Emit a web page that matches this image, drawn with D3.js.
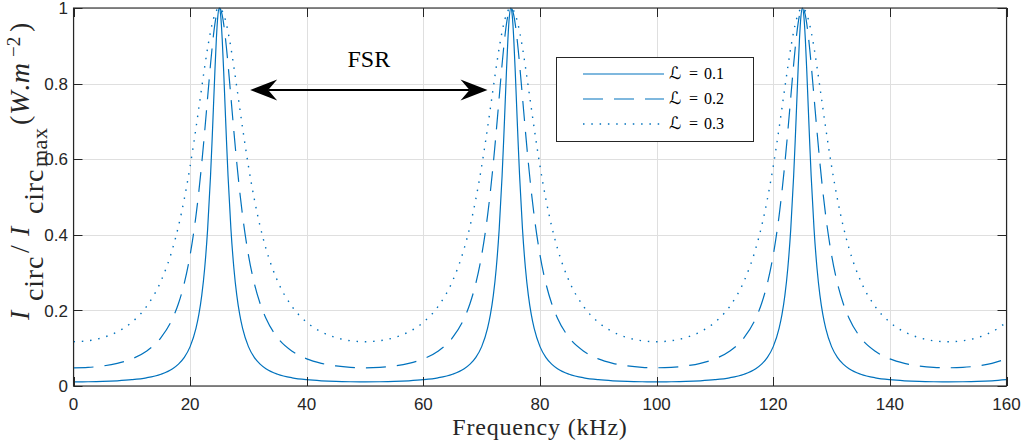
<!DOCTYPE html>
<html>
<head>
<meta charset="utf-8">
<script src="https://cdn.jsdelivr.net/npm/d3@7"></script>
<style>
  html, body { margin: 0; padding: 0; background: #fff; }
  svg { display: block; }
  .serif { font-family: "Liberation Serif", "Times New Roman", serif; }
</style>
</head>
<body>
<svg id="chart" width="1029" height="447"></svg>
<script>
// ---------------- DATA ----------------
const freq = [0,2.5,5,7.5,10,12.5,15,17,18,19,20,21,21.5,22,22.5,23,23.5,23.75,24,24.25,24.5,24.75,25,
  25.25,25.5,25.75,26,26.25,26.5,27,27.5,28,28.5,29,30,31,32,33,35,37.5,40,42.5,45,47.5,50,
  52.5,55,57.5,60,62.5,65,67,68,69,70,71,71.5,72,72.5,73,73.5,73.75,74,74.25,74.5,74.75,75,
  75.25,75.5,75.75,76,76.25,76.5,77,77.5,78,78.5,79,80,81,82,83,85,87.5,90,92.5,95,97.5,100,
  102.5,105,107.5,110,112.5,115,117,118,119,120,121,121.5,122,122.5,123,123.5,123.75,124,124.25,124.5,124.75,125,
  125.25,125.5,125.75,126,126.25,126.5,127,127.5,128,128.5,129,130,131,132,133,135,137.5,140,142.5,145,147.5,150,
  152.5,155,157.5,160];

const valuesL01 = [0.0110,0.0113,0.0121,0.0138,0.0167,0.0217,0.0312,0.0457,0.0578,0.0758,0.1042,0.1523,0.1893,0.2404,0.3123,0.4143,0.5564,0.6435,0.7381,0.8335,0.9184,0.9783,1,
  0.9783,0.9184,0.8335,0.7381,0.6435,0.5564,0.4143,0.3123,0.2404,0.1893,0.1523,0.1042,0.0758,0.0578,0.0457,0.0312,0.0217,0.0167,0.0138,0.0121,0.0113,0.0110,
  0.0113,0.0121,0.0138,0.0167,0.0217,0.0312,0.0457,0.0578,0.0758,0.1042,0.1523,0.1893,0.2404,0.3123,0.4143,0.5564,0.6435,0.7381,0.8335,0.9184,0.9783,1,
  0.9783,0.9184,0.8335,0.7381,0.6435,0.5564,0.4143,0.3123,0.2404,0.1893,0.1523,0.1042,0.0758,0.0578,0.0457,0.0312,0.0217,0.0167,0.0138,0.0121,0.0113,0.0110,
  0.0113,0.0121,0.0138,0.0167,0.0217,0.0312,0.0457,0.0578,0.0758,0.1042,0.1523,0.1893,0.2404,0.3123,0.4143,0.5564,0.6435,0.7381,0.8335,0.9184,0.9783,1,
  0.9783,0.9184,0.8335,0.7381,0.6435,0.5564,0.4143,0.3123,0.2404,0.1893,0.1523,0.1042,0.0758,0.0578,0.0457,0.0312,0.0217,0.0167,0.0138,0.0121,0.0113,0.0110,
  0.0113,0.0121,0.0138,0.0167];

const valuesL02 = [0.0482,0.0493,0.0530,0.0600,0.0718,0.0920,0.1278,0.1791,0.2183,0.2720,0.3465,0.4501,0.5155,0.5905,0.6742,0.7632,0.8511,0.8916,0.9278,0.9580,0.9809,0.9952,1,
  0.9952,0.9809,0.9580,0.9278,0.8916,0.8511,0.7632,0.6742,0.5905,0.5155,0.4501,0.3465,0.2720,0.2183,0.1791,0.1278,0.0920,0.0718,0.0600,0.0530,0.0493,0.0482,
  0.0493,0.0530,0.0600,0.0718,0.0920,0.1278,0.1791,0.2183,0.2720,0.3465,0.4501,0.5155,0.5905,0.6742,0.7632,0.8511,0.8916,0.9278,0.9580,0.9809,0.9952,1,
  0.9952,0.9809,0.9580,0.9278,0.8916,0.8511,0.7632,0.6742,0.5905,0.5155,0.4501,0.3465,0.2720,0.2183,0.1791,0.1278,0.0920,0.0718,0.0600,0.0530,0.0493,0.0482,
  0.0493,0.0530,0.0600,0.0718,0.0920,0.1278,0.1791,0.2183,0.2720,0.3465,0.4501,0.5155,0.5905,0.6742,0.7632,0.8511,0.8916,0.9278,0.9580,0.9809,0.9952,1,
  0.9952,0.9809,0.9580,0.9278,0.8916,0.8511,0.7632,0.6742,0.5905,0.5155,0.4501,0.3465,0.2720,0.2183,0.1791,0.1278,0.0920,0.0718,0.0600,0.0530,0.0493,0.0482,
  0.0493,0.0530,0.0600,0.0718];

const valuesL03 = [0.1172,0.1197,0.1280,0.1432,0.1686,0.2098,0.2775,0.3638,0.4226,0.4948,0.5816,0.6821,0.7361,0.7908,0.8443,0.8942,0.9374,0.9557,0.9711,0.9836,0.9926,0.9981,1,
  0.9981,0.9926,0.9836,0.9711,0.9557,0.9374,0.8942,0.8443,0.7908,0.7361,0.6821,0.5816,0.4948,0.4226,0.3638,0.2775,0.2098,0.1686,0.1432,0.1280,0.1197,0.1172,
  0.1197,0.1280,0.1432,0.1686,0.2098,0.2775,0.3638,0.4226,0.4948,0.5816,0.6821,0.7361,0.7908,0.8443,0.8942,0.9374,0.9557,0.9711,0.9836,0.9926,0.9981,1,
  0.9981,0.9926,0.9836,0.9711,0.9557,0.9374,0.8942,0.8443,0.7908,0.7361,0.6821,0.5816,0.4948,0.4226,0.3638,0.2775,0.2098,0.1686,0.1432,0.1280,0.1197,0.1172,
  0.1197,0.1280,0.1432,0.1686,0.2098,0.2775,0.3638,0.4226,0.4948,0.5816,0.6821,0.7361,0.7908,0.8443,0.8942,0.9374,0.9557,0.9711,0.9836,0.9926,0.9981,1,
  0.9981,0.9926,0.9836,0.9711,0.9557,0.9374,0.8942,0.8443,0.7908,0.7361,0.6821,0.5816,0.4948,0.4226,0.3638,0.2775,0.2098,0.1686,0.1432,0.1280,0.1197,0.1172,
  0.1197,0.1280,0.1432,0.1686];

const seriesLabels = ["0.1", "0.2", "0.3"];
const xTicks = [0, 20, 40, 60, 80, 100, 120, 140, 160];
const yTicks = [0, 0.2, 0.4, 0.6, 0.8, 1];
const yTickLabels = ["0", "0.2", "0.4", "0.6", "0.8", "1"];
const fsrArrow = [30.3, 71.0];   // kHz
const fsrArrowY = 0.783;
const fsrText = "FSR";

// ---------------- LAYOUT ----------------
const svg = d3.select("#chart");
const L = 73.5, R = 1006.5, T = 8, B = 386;
const x = d3.scaleLinear().domain([0, 160]).range([L, R]);
const y = d3.scaleLinear().domain([0, 1]).range([B, T]);
const axisColor = "#262626";
const lineColor = "#0072BD";
const tickFont = "'Liberation Sans', Arial, Helvetica, sans-serif";

// grid
const grid = svg.append("g");
grid.selectAll("line.gx").data(xTicks).join("line")
  .attr("x1", d => Math.round(x(d)) + 0.5).attr("x2", d => Math.round(x(d)) + 0.5)
  .attr("y1", T).attr("y2", B).attr("stroke", "#dfdfdf").attr("stroke-width", 1);
grid.selectAll("line.gy").data(yTicks).join("line")
  .attr("y1", d => Math.round(y(d)) + 0.5).attr("y2", d => Math.round(y(d)) + 0.5)
  .attr("x1", L).attr("x2", R).attr("stroke", "#dfdfdf").attr("stroke-width", 1);

// series
const series = [
  { vals: valuesL01, dash: null, w: 1.2 },
  { vals: valuesL02, dash: "20,11", w: 1.2 },
  { vals: valuesL03, dash: "1.5,6.8", w: 1.4 }
];
const line = d3.line().x(d => x(d[0])).y(d => y(d[1])).curve(d3.curveMonotoneX);
svg.append("defs").append("clipPath").attr("id", "clip")
  .append("rect").attr("x", L).attr("y", T - 2).attr("width", R - L).attr("height", B - T + 2);
const gSeries = svg.append("g").attr("clip-path", "url(#clip)");
series.forEach(s => {
  gSeries.append("path")
    .datum(freq.map((f, i) => [f, s.vals[i]]))
    .attr("d", line).attr("fill", "none")
    .attr("stroke", lineColor).attr("stroke-width", s.w)
    .attr("stroke-dasharray", s.dash);
});

// axes box
svg.append("rect").attr("x", L).attr("y", T).attr("width", R - L).attr("height", B - T)
  .attr("fill", "none").attr("stroke", axisColor).attr("stroke-width", 1.1);

// ticks (inward, on all four sides)
const tl = 9;
const ticks = svg.append("g").attr("stroke", axisColor).attr("stroke-width", 1);
xTicks.forEach(t => {
  const xx = Math.round(x(t)) + 0.5;
  ticks.append("line").attr("x1", xx).attr("x2", xx).attr("y1", B).attr("y2", B - tl);
  ticks.append("line").attr("x1", xx).attr("x2", xx).attr("y1", T).attr("y2", T + tl);
});
yTicks.forEach(t => {
  const yy = Math.round(y(t)) + 0.5;
  ticks.append("line").attr("x1", L).attr("x2", L + tl).attr("y1", yy).attr("y2", yy);
  ticks.append("line").attr("x1", R).attr("x2", R - tl).attr("y1", yy).attr("y2", yy);
});

// tick labels
svg.append("g").selectAll("text").data(xTicks).join("text")
  .attr("x", d => x(d)).attr("y", 410).attr("text-anchor", "middle")
  .attr("font-family", tickFont).attr("font-size", 17).attr("fill", axisColor)
  .text(d => d);
svg.append("g").selectAll("text").data(yTicks).join("text")
  .attr("x", 68).attr("y", d => y(d)).attr("dy", "0.36em").attr("text-anchor", "end")
  .attr("font-family", tickFont).attr("font-size", 17).attr("fill", axisColor)
  .text((d, i) => yTickLabels[i]);

// x label
svg.append("text").attr("class", "serif").attr("x", (L + R) / 2).attr("y", 435).attr("text-anchor", "middle")
  .attr("font-size", 24).attr("letter-spacing", 0.8).attr("fill", axisColor)
  .text("Frequency (kHz)");

// y label (rotated); tspan x = distance upward from the label start
const yl = svg.append("text").attr("class", "serif")
  .attr("transform", "translate(29,320) rotate(-90)")
  .attr("font-size", 28).attr("fill", axisColor);
yl.append("tspan").attr("x", 0).attr("font-style", "italic").text("I");
yl.append("tspan").attr("x", 19).attr("dy", 14).attr("letter-spacing", 0.8).text("circ");
yl.append("tspan").attr("x", 67).attr("dy", -14).text("/");
yl.append("tspan").attr("x", 84).attr("font-style", "italic").text("I");
yl.append("tspan").attr("x", 106).attr("dy", 14).attr("letter-spacing", 0.8).text("circ");
yl.append("tspan").attr("x", 153).attr("dy", 4).attr("font-size", 22).attr("letter-spacing", 0.5).text("max");
yl.append("tspan").attr("x", 195).attr("dy", -18).text("(");
yl.append("tspan").attr("font-style", "italic").attr("dx", 1).text("W");
yl.append("tspan").text(".");
yl.append("tspan").attr("font-style", "italic").attr("dx", 1).text("m");
yl.append("tspan").attr("x", 263).attr("dy", -9).attr("font-size", 19).text("\u22122");
yl.append("tspan").attr("x", 288).attr("dy", 9).text(")");

// FSR annotation
const ay = y(fsrArrowY);
const ax1 = x(fsrArrow[0]), ax2 = x(fsrArrow[1]);
const headL = 27, headW = 10.5, notch = 18;
svg.append("line").attr("x1", ax1 + notch).attr("x2", ax2 - notch).attr("y1", ay).attr("y2", ay)
  .attr("stroke", "#000").attr("stroke-width", 2);
svg.append("polygon").attr("fill", "#000")
  .attr("points", [[ax1, ay], [ax1 + headL, ay - headW], [ax1 + notch, ay], [ax1 + headL, ay + headW]].join(" "));
svg.append("polygon").attr("fill", "#000")
  .attr("points", [[ax2, ay], [ax2 - headL, ay - headW], [ax2 - notch, ay], [ax2 - headL, ay + headW]].join(" "));
svg.append("text").attr("class", "serif").attr("x", x((fsrArrow[0] + fsrArrow[1]) / 2)).attr("y", y(0.845))
  .attr("text-anchor", "middle").attr("font-size", 24).attr("fill", "#000")
  .text(fsrText);

// legend
const lg = svg.append("g");
lg.append("rect").attr("x", 556.5).attr("y", 57.5).attr("width", 197).attr("height", 84)
  .attr("fill", "#fff").attr("stroke", axisColor).attr("stroke-width", 1);
series.forEach((s, i) => {
  const yy = 74 + i * 25;
  lg.append("line").attr("x1", 583).attr("x2", 664).attr("y1", yy).attr("y2", yy)
    .attr("stroke", lineColor).attr("stroke-width", s.w).attr("stroke-dasharray", s.dash);
  const t = lg.append("text").attr("class", "serif").attr("y", yy + 5).attr("font-size", 16).attr("fill", "#000");
  t.append("tspan").attr("x", 669).attr("style", "font-family:'DejaVu Serif','DejaVu Sans',serif").attr("font-style", "italic").attr("font-size", 17).text("\u2112");
  t.append("tspan").attr("x", 689).text("=");
  t.append("tspan").attr("x", 704).text(seriesLabels[i]);
});
</script>
</body>
</html>
